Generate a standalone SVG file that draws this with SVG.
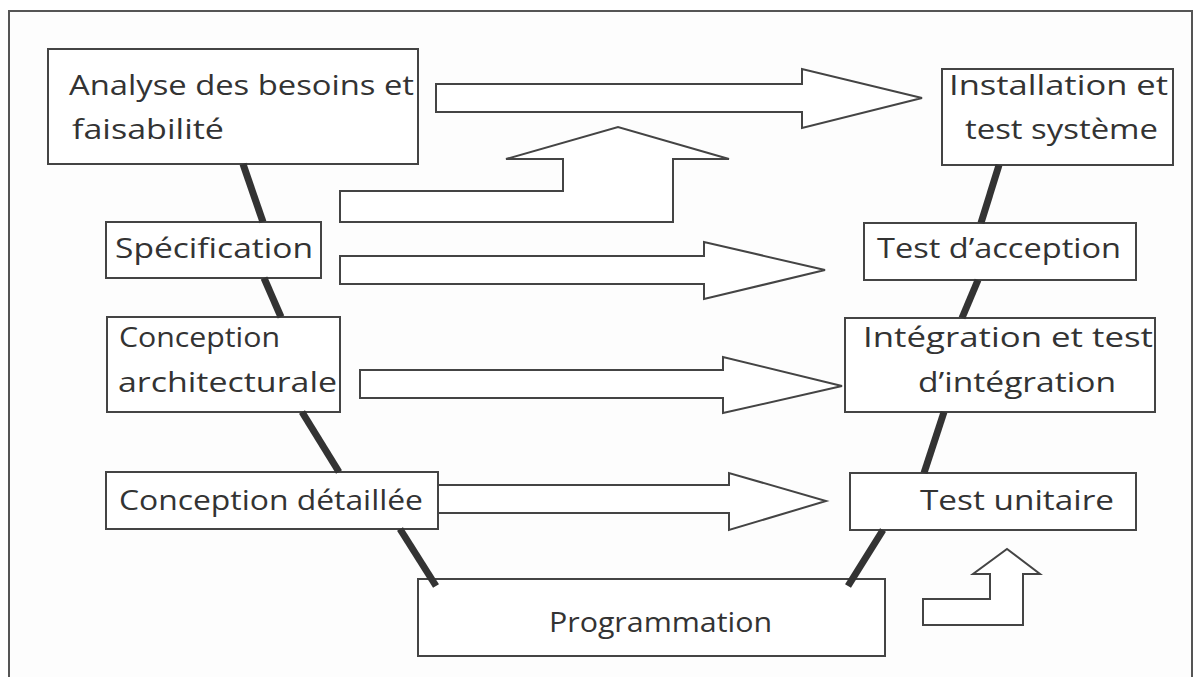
<svg xmlns="http://www.w3.org/2000/svg" width="1195" height="677" viewBox="0 0 1195 677">
  <style>
    .frame { fill: #fdfdfd; stroke: #555; stroke-width: 2; }
    .box { fill: #ffffff; stroke: #444; stroke-width: 2; }
    .arrow { fill: #ffffff; stroke: #444; stroke-width: 2; stroke-linejoin: miter; }
    .link { stroke: #333; stroke-width: 7; stroke-linecap: butt; }
    text { font-family: "Comic Sans MS", "Open Sans", "DejaVu Sans", sans-serif; font-size: 28px; fill: #333; }
  </style>

  <!-- outer frame -->
  <rect class="frame" x="9" y="11" width="1183" height="680"/>

  <!-- block arrows between the two branches -->
  <g id="arrows">
    <polygon class="arrow" points="436,84 802,84 802,69 922,98 802,128 802,112 436,112"/>
    <polygon class="arrow" points="340,191 563,191 563,159 506,159 618,127 729,159 673,159 673,222 340,222"/>
    <polygon class="arrow" points="340,256 704,256 704,242 825,270 704,299 704,284 340,284"/>
    <polygon class="arrow" points="360,370 723,370 723,357 842,386 723,413 723,398 360,398"/>
    <polygon class="arrow" points="438,485 729,485 729,473 826,501 729,530 729,513 438,513"/>
    <polygon class="arrow" points="923,625 923,599 990,599 990,574 973,574 1007,549 1040,574 1023,574 1023,625"/>
  </g>

  <!-- left branch -->
  <g id="analyse">
    <rect class="box" x="48" y="49" width="370" height="115"/>
    <text x="69" y="95" textLength="345" lengthAdjust="spacingAndGlyphs">Analyse des besoins et</text>
    <text x="72" y="139" textLength="152" lengthAdjust="spacingAndGlyphs">faisabilité</text>
  </g>
  <g id="specification">
    <rect class="box" x="106" y="222" width="215" height="56"/>
    <text x="115" y="258" textLength="198" lengthAdjust="spacingAndGlyphs">Spécification</text>
  </g>
  <g id="conception-architecturale">
    <rect class="box" x="107" y="317" width="233" height="95"/>
    <text x="119" y="347" textLength="161" lengthAdjust="spacingAndGlyphs">Conception</text>
    <text x="118" y="392" textLength="219" lengthAdjust="spacingAndGlyphs">architecturale</text>
  </g>
  <g id="conception-detaillee">
    <rect class="box" x="106" y="472" width="332" height="57"/>
    <text x="119" y="510" textLength="304" lengthAdjust="spacingAndGlyphs">Conception détaillée</text>
  </g>
  <g id="programmation">
    <rect class="box" x="418" y="579" width="467" height="77"/>
    <text x="549" y="632" textLength="223" lengthAdjust="spacingAndGlyphs">Programmation</text>
  </g>

  <!-- right branch -->
  <g id="installation">
    <rect class="box" x="942" y="69" width="231" height="96"/>
    <text x="949" y="95" textLength="219" lengthAdjust="spacingAndGlyphs">Installation et</text>
    <text x="965" y="139" textLength="193" lengthAdjust="spacingAndGlyphs">test système</text>
  </g>
  <g id="test-acception">
    <rect class="box" x="864" y="223" width="272" height="57"/>
    <text x="877" y="258" textLength="244" lengthAdjust="spacingAndGlyphs">Test d’acception</text>
  </g>
  <g id="integration">
    <rect class="box" x="845" y="318" width="310" height="94"/>
    <text x="863" y="347" textLength="290" lengthAdjust="spacingAndGlyphs">Intégration et test</text>
    <text x="918" y="392" textLength="198" lengthAdjust="spacingAndGlyphs">d’intégration</text>
  </g>
  <g id="test-unitaire">
    <rect class="box" x="850" y="473" width="286" height="57"/>
    <text x="920" y="510" textLength="194" lengthAdjust="spacingAndGlyphs">Test unitaire</text>
  </g>

  <!-- V-shaped links between phases -->
  <g id="connectors">
    <line class="link" x1="243" y1="164" x2="263" y2="222"/>
    <line class="link" x1="264" y1="278" x2="281" y2="317"/>
    <line class="link" x1="302" y1="412" x2="339" y2="472"/>
    <line class="link" x1="400" y1="529" x2="436" y2="586"/>
    <line class="link" x1="999" y1="165" x2="981" y2="223"/>
    <line class="link" x1="978" y1="280" x2="962" y2="318"/>
    <line class="link" x1="944" y1="412" x2="924" y2="473"/>
    <line class="link" x1="883" y1="530" x2="848" y2="586"/>
  </g>
</svg>
